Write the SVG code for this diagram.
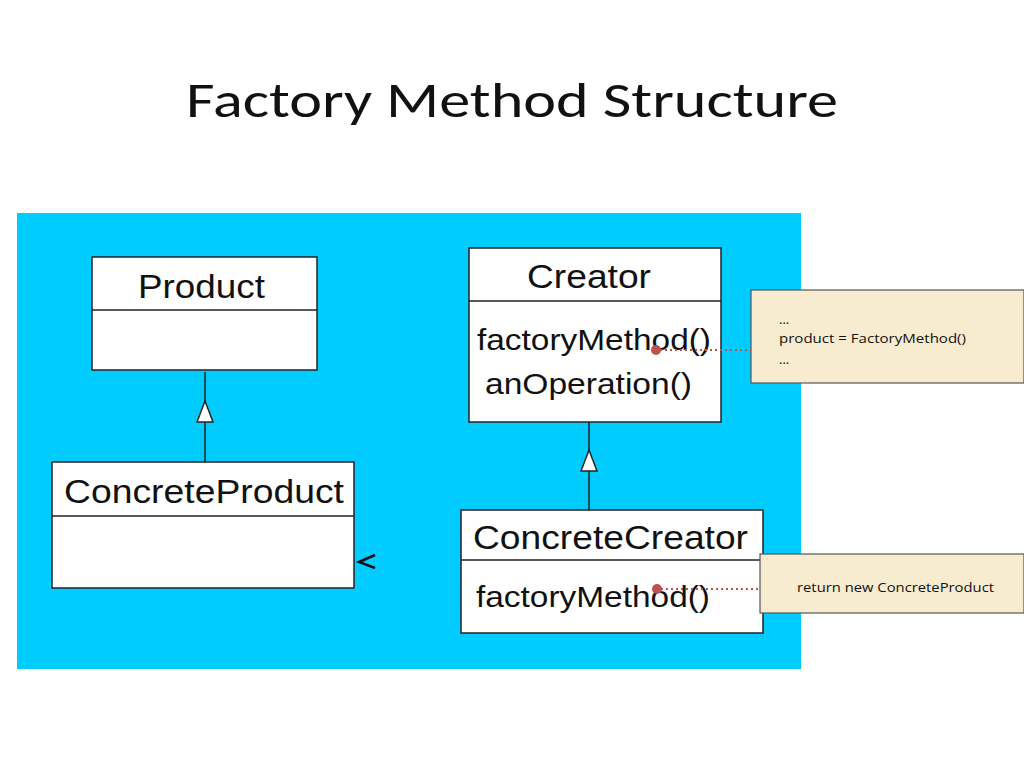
<svg xmlns="http://www.w3.org/2000/svg" width="1024" height="768" viewBox="0 0 1024 768">
<style>
.box{fill:#fff;stroke:#222;stroke-width:1.5}
.t{font-family:"Liberation Sans",Arial,sans-serif;fill:#111}
.note{fill:#f8ecd0;stroke:#555;stroke-width:1.2}
.nt{font-family:"Open Sans","Liberation Sans",sans-serif;font-size:13px;fill:#111}
.dot{stroke:#c0504d;stroke-width:2;stroke-dasharray:2 3;fill:none}
</style>
<rect width="1024" height="768" fill="#fff"/>
<text x="186" y="117" textLength="652" lengthAdjust="spacingAndGlyphs" font-family="Calibri,'Open Sans','Liberation Sans',sans-serif" font-size="50" fill="#111">Factory Method Structure</text>
<rect x="17" y="213" width="784" height="456" fill="#00ccff"/>
<g id="product"><rect class="box" x="92" y="257" width="225" height="113"/><line x1="92" y1="310" x2="317" y2="310" stroke="#222" stroke-width="1.5"/><text class="t" x="138" y="298" font-size="33" textLength="127" lengthAdjust="spacingAndGlyphs">Product</text></g>
<g id="concreteproduct"><rect class="box" x="52" y="462" width="302" height="126"/><line x1="52" y1="516" x2="354" y2="516" stroke="#222" stroke-width="1.5"/><text class="t" x="64" y="503" font-size="33" textLength="280" lengthAdjust="spacingAndGlyphs">ConcreteProduct</text></g>
<g id="creator"><rect class="box" x="469" y="248" width="252" height="174"/><line x1="469" y1="301" x2="721" y2="301" stroke="#222" stroke-width="1.5"/><text class="t" x="527" y="288" font-size="33" textLength="124" lengthAdjust="spacingAndGlyphs">Creator</text><text class="t" x="477" y="350" font-size="29" textLength="234" lengthAdjust="spacingAndGlyphs">factoryMethod()</text><text class="t" x="485" y="394" font-size="29" textLength="207" lengthAdjust="spacingAndGlyphs">anOperation()</text></g>
<g id="concretecreator"><rect class="box" x="461" y="510" width="302" height="123"/><line x1="461" y1="560" x2="763" y2="560" stroke="#222" stroke-width="1.5"/><text class="t" x="473" y="549" font-size="33" textLength="275" lengthAdjust="spacingAndGlyphs">ConcreteCreator</text><text class="t" x="476" y="607" font-size="29" textLength="234" lengthAdjust="spacingAndGlyphs">factoryMethod()</text></g>
<g id="note1"><rect class="note" x="751" y="290" width="273" height="93"/><text class="nt" x="779" y="324">...</text><text class="nt" x="779" y="343" textLength="187" lengthAdjust="spacingAndGlyphs">product = FactoryMethod()</text><text class="nt" x="779" y="364">...</text></g>
<g id="note2"><rect class="note" x="760" y="554" width="264" height="59"/><text class="nt" x="797" y="592" textLength="197" lengthAdjust="spacingAndGlyphs">return new ConcreteProduct</text></g>
<g id="connectors">
<line x1="205" y1="372" x2="205" y2="462" stroke="#222" stroke-width="1.5"/>
<polygon points="205,401 197,422 213,422" fill="#fff" stroke="#222" stroke-width="1.5"/>
<line x1="589" y1="422" x2="589" y2="510" stroke="#222" stroke-width="1.5"/>
<polygon points="589,450 581,471 597,471" fill="#fff" stroke="#222" stroke-width="1.5"/>
<polyline points="375,555 359,562 375,568" fill="none" stroke="#111" stroke-width="2.5"/>
<circle cx="656" cy="350" r="5" fill="#c0504d"/><line class="dot" x1="660" y1="350" x2="751" y2="350"/>
<circle cx="657" cy="589" r="5" fill="#c0504d"/><line class="dot" x1="661" y1="589" x2="760" y2="589"/>
</g>
</svg>
